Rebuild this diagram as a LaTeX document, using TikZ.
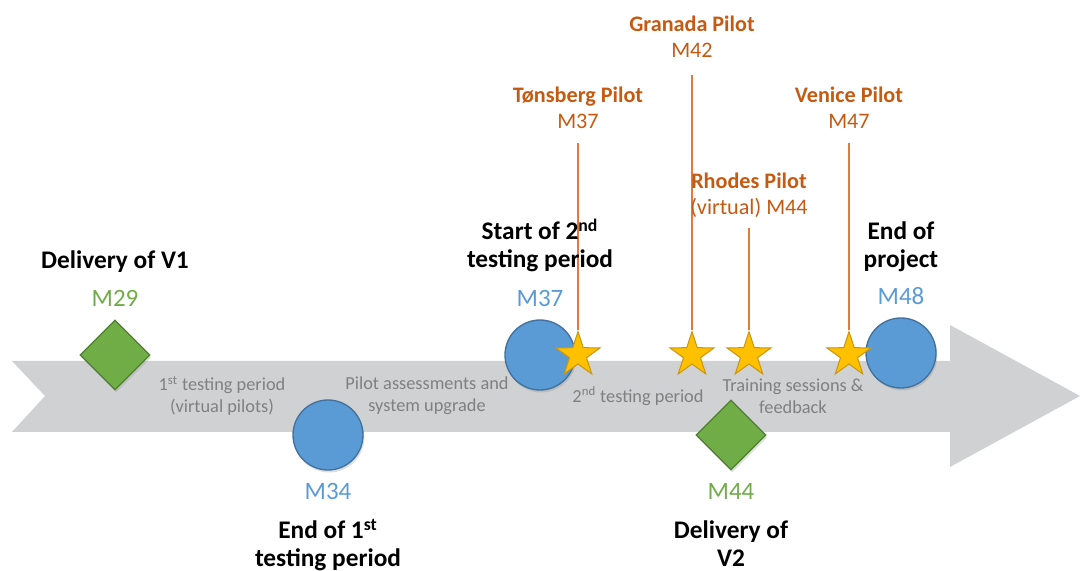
\documentclass[tikz,border=0pt]{standalone}
\usepackage{fontspec}
\setmainfont{Carlito}
\usetikzlibrary{shapes.geometric}
\usetikzlibrary{shadows}
\usetikzlibrary{positioning}

\definecolor{bandgray}{HTML}{D0D1D3}
\definecolor{msblue}{HTML}{5B9BD5}
\definecolor{msbluedark}{HTML}{41719C}
\definecolor{msgreen}{HTML}{70AD47}
\definecolor{msgreendark}{HTML}{507E32}
\definecolor{pilotorange}{HTML}{C55A11}
\definecolor{pinorange}{HTML}{E07B3C}
\definecolor{staryellow}{HTML}{FFC000}
\definecolor{staredge}{HTML}{C9950A}
\definecolor{periodgray}{HTML}{808080}

\tikzset{
  milestone/.style={circle, draw=msbluedark, fill=msblue, line width=0.8pt,
    minimum size=42pt, inner sep=0pt,
    drop shadow={opacity=0.25, shadow xshift=0.8pt, shadow yshift=-1.5pt}},
  delivery/.style={diamond, draw=msgreendark, fill=msgreen, line width=0.8pt,
    minimum size=42pt, inner sep=0pt,
    drop shadow={opacity=0.25, shadow xshift=0.8pt, shadow yshift=-1.5pt}},
  pilotstar/.style={star, star points=5, star point ratio=2.6, draw=staredge,
    fill=staryellow, line width=0.6pt, minimum size=28pt, inner sep=0pt},
  title/.style={font=\fontsize{15.2}{16.6}\selectfont\bfseries, align=center, inner sep=1pt},
  month/.style={font=\fontsize{15}{18}\selectfont, inner sep=1pt},
  pilotlabel/.style={font=\fontsize{13.3}{15.6}\selectfont, text=pilotorange, align=center, inner sep=1pt},
  period/.style={font=\fontsize{11}{13.2}\selectfont, text=periodgray, align=center, inner sep=1pt},
  pin/.style={draw=pinorange, line width=1pt}
}

\begin{document}
\begin{tikzpicture}[x=0.6pt, y=-0.6pt]
\useasboundingbox (0,0) rectangle (1080,571);

% Time band
\fill[bandgray] (12,361) -- (950,361) -- (950,325) -- (1080,396) -- (950,467)
  -- (950,432) -- (12,432) -- (45,396) -- cycle;

% Period texts
\node[period] (per1) at (222,396) {1\textsuperscript{st} testing period\\(virtual pilots)};
\node[period] (per2) at (427,396) {Pilot assessments and\\system upgrade};
\node[period] (per3) at (638,396) {2\textsuperscript{nd} testing period};
\node[period] (per4) at (793,396) {Training sessions \&\\feedback};

% Milestones
\node[delivery] (dia29) at (115,355) {};
\node[milestone] (circ34) at (328,435) {};
\node[milestone] (circ37) at (540,355) {};
\node[delivery] (dia44) at (731,435) {};
\node[milestone] (circ48) at (901,353) {};

% Pilots
\node[pilotstar] (star37) at (578,355) {};
\node[pilotstar] (star42) at (692,355) {};
\node[pilotstar] (star44) at (749,355) {};
\node[pilotstar] (star47) at (849,355) {};

\coordinate (top37) at (578,143);
\coordinate (top42) at (692,75);
\coordinate (top44) at (749,228);
\coordinate (top47) at (849,143);

\draw[pin] (top37) -- (star37.north);
\draw[pin] (top42) -- (star42.north);
\draw[pin] (top44) -- (star44.north);
\draw[pin] (top47) -- (star47.north);

\node[pilotlabel, above=7.5pt of top37] (lab37) {\textbf{Tønsberg Pilot}\\M37};
\node[pilotlabel, above=9pt of top42] (lab42) {\textbf{Granada Pilot}\\M42};
\node[pilotlabel, above=5pt of top44] (lab44) {\textbf{Rhodes Pilot}\\(virtual) M44};
\node[pilotlabel, above=7.5pt of top47] (lab47) {\textbf{Venice Pilot}\\M47};

% Month labels
\node[month, text=msgreen, above=6.5pt of dia29] (m29) {M29};
\node[month, text=msblue, below=6.5pt of circ34] (m34) {M34};
\node[month, text=msblue, above=6.5pt of circ37] (m37) {M37};
\node[month, text=msgreen, below=6.5pt of dia44] (m44) {M44};
\node[month, text=msblue, above=6.5pt of circ48] (m48) {M48};

% Milestone titles
\node[title, above=8.5pt of m29] (t29) {Delivery of V1};
\node[title, below=9pt of m34] (t34) {End of 1\textsuperscript{st}\\testing period};
\node[title, above=8.5pt of m37] (t37) {Start of 2\textsuperscript{nd}\\testing period};
\node[title, below=10.5pt of m44] (t44) {Delivery of\\V2};
\node[title, above=7pt of m48] (t48) {End of\\project};
\end{tikzpicture}
\end{document}
